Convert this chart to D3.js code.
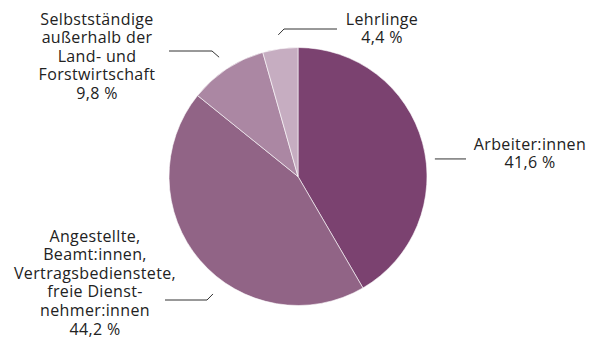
<!DOCTYPE html>
<html>
<head>
<meta charset="utf-8">
<style>
body { margin:0; background:#fff; }
svg text { font-family: "Open Sans", sans-serif; font-size:16px; letter-spacing:0.35px; fill:#222; }
</style>
</head>
<body>
<svg width="595" height="345"></svg>
<script src="https://d3js.org/d3.v7.min.js"></script>
<script>
// data
var categories = ["Arbeiter:innen", "Angestellte", "Selbstständige", "Lehrlinge"];
var values = [41.6, 44.2, 9.8, 4.4];
var valueLabels = ["41,6 %", "44,2 %", "9,8 %", "4,4 %"];
var labelLines = [
  ["Arbeiter:innen"],
  ["Angestellte,", "Beamt:innen,", "Vertragsbedienstete,", "freie Dienst-", "nehmer:innen"],
  ["Selbstständige", "außerhalb der", "Land- und", "Forstwirtschaft"],
  ["Lehrlinge"]
];
var colors = ["#7b4270", "#916486", "#ab87a3", "#c6adc1"];

var svg = d3.select("svg");
var cx = 298, cy = 176.5, R = 129;

var pie = d3.pie().sort(null).value(function(d){ return d; });
var arcs = pie(values);
var arc = d3.arc().innerRadius(0).outerRadius(R);

var g = svg.append("g").attr("transform", "translate(" + cx + "," + cy + ")");
g.selectAll("path").data(arcs).enter().append("path")
  .attr("d", arc)
  .attr("fill", function(d, i){ return colors[i]; })
  .attr("stroke", "#fff")
  .attr("stroke-width", 0.6);

// label layout: leader start angle (null = mid angle), radius, elbow, end x, text pos
var layout = [
  { ang: 0.2297 * 2 * Math.PI, r: 138, elbow: null, endX: 466, tx: 530, ty: 149.5 },
  { ang: 215.9 / 180 * Math.PI, r: 145, elbow: [207, 300], endX: 165, tx: 95, ty: 241.5 },
  { ang: null, r: 143, elbow: [212, 51], endX: 169, tx: 97, ty: 24.5 },
  { ang: null, r: 143, elbow: [284, 29], endX: 337, tx: 382, ty: 24.5 }
];

arcs.forEach(function(a, i) {
  var L = layout[i];
  var ang = L.ang == null ? (a.startAngle + a.endAngle) / 2 : L.ang;
  var sx = cx + L.r * Math.sin(ang), sy = cy - L.r * Math.cos(ang);
  var pts = [[sx, sy]];
  if (L.elbow) { pts.push(L.elbow); pts.push([L.endX, L.elbow[1]]); }
  else { pts.push([L.endX, sy]); }
  svg.append("path")
    .attr("d", d3.line()(pts))
    .attr("fill", "none")
    .attr("stroke", "#333")
    .attr("stroke-width", 1);

  var t = svg.append("text").attr("text-anchor", "middle");
  var lines = labelLines[i].concat([valueLabels[i]]);
  lines.forEach(function(s, k) {
    t.append("tspan").attr("x", L.tx).attr("y", L.ty + k * 18.6).text(s);
  });
});
</script>
</body>
</html>
